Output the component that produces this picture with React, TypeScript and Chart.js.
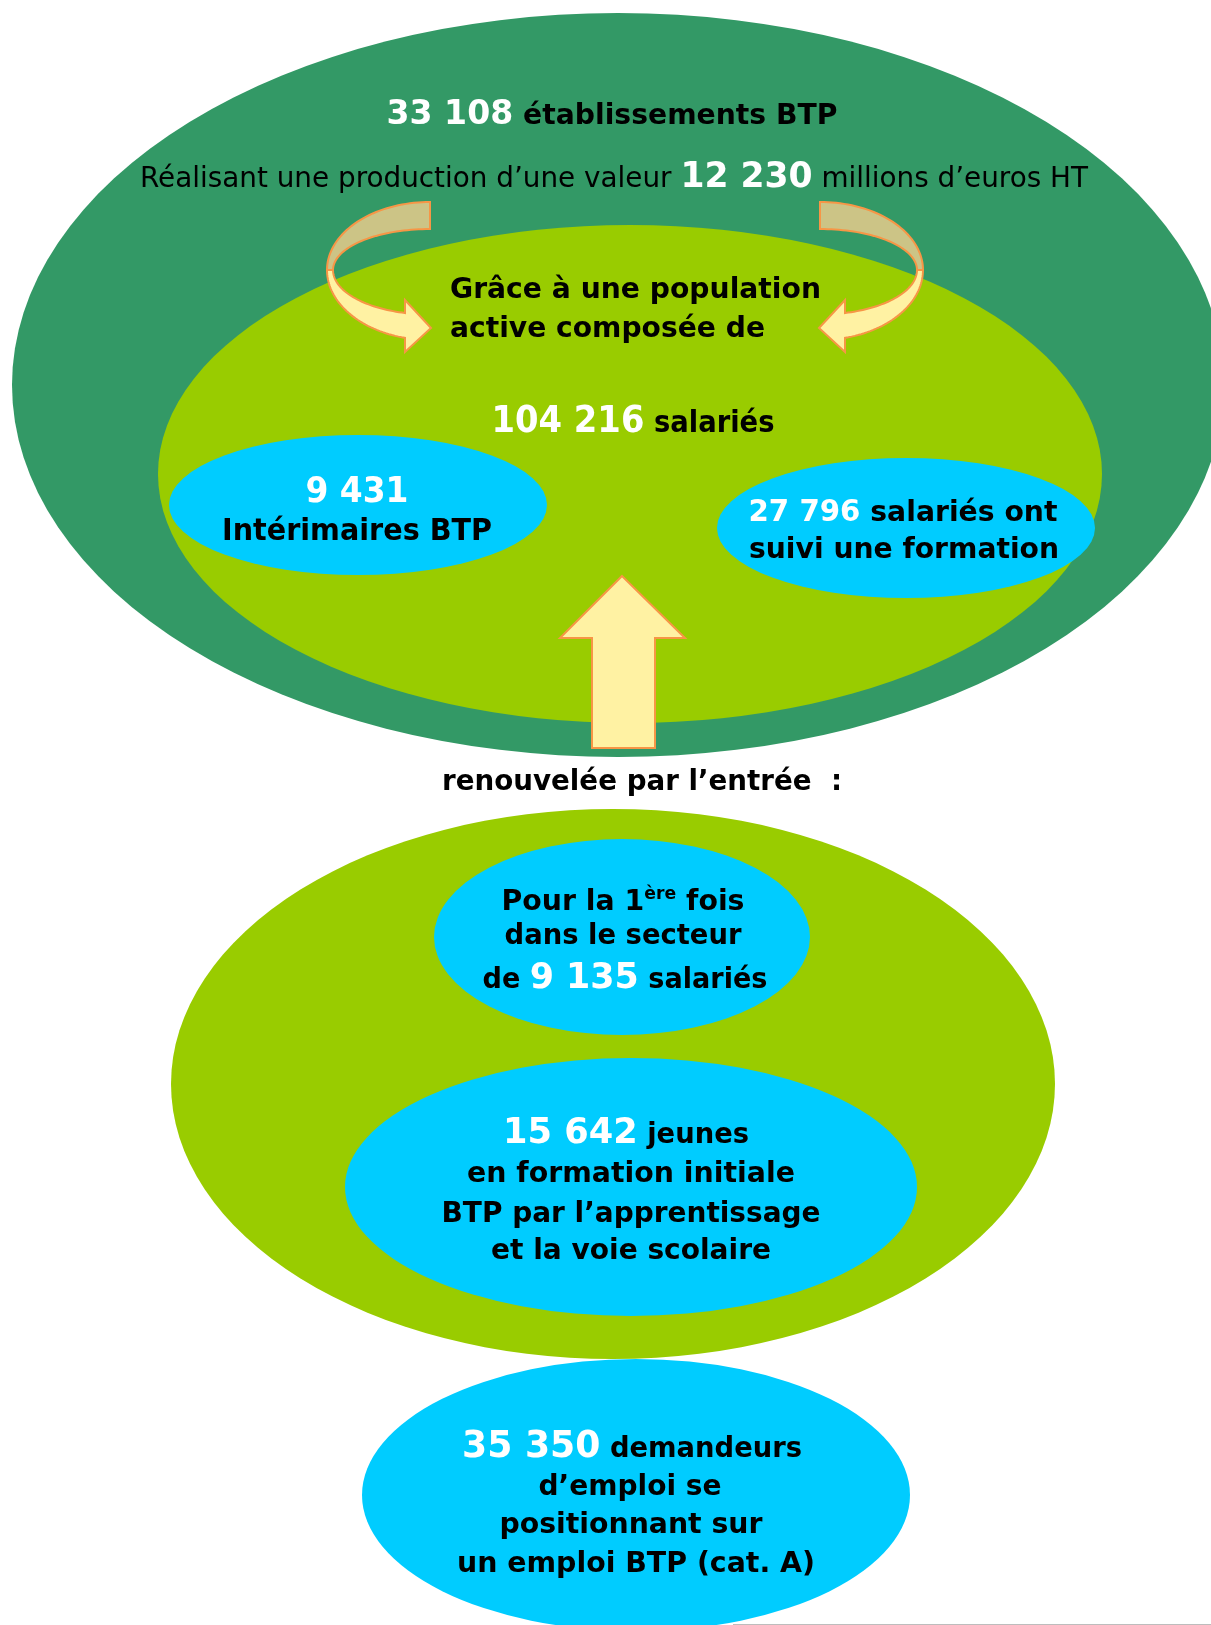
import { useEffect, useRef } from "react";
import { Chart, registerables } from "chart.js";

Chart.register(...registerables);

const W = 1211;
const H = 1625;

// ---------- DATA ----------
const figureIds = ["etablissements", "production", "salaries", "interimaires", "formes", "primoEntrants", "jeunes", "demandeurs"];
const figureValues = [33108, 12230, 104216, 9431, 27796, 9135, 15642, 35350];
const figureUnits = [
  " établissements BTP",
  " millions d’euros HT",
  " salariés",
  "Intérimaires BTP",
  " salariés ont",
  " salariés",
  " jeunes",
  " demandeurs",
];
const captionLines = [
  "Réalisant une production d’une valeur ",
  "Grâce à une population",
  "active composée de",
  "suivi une formation",
  "renouvelée par l’entrée  :",
  "Pour la 1",
  "ère",
  " fois",
  "dans le secteur",
  "de ",
  "en formation initiale",
  "BTP par l’apprentissage",
  "et la voie scolaire",
  "d’emploi se",
  "positionnant sur",
  "un emploi BTP (cat. A)",
];

const fmt = (n: number) => String(n).replace(/\B(?=(\d{3})+(?!\d))/g, " ");
const val = (id: string) => fmt(figureValues[figureIds.indexOf(id)]);
const unit = (id: string) => figureUnits[figureIds.indexOf(id)];

// ---------- STYLE / LAYOUT ----------
const DARK_GREEN = "#339966";
const LIGHT_GREEN = "#99CC00";
const CYAN = "#00CCFF";
const ARROW_FILL = "#FFF2A3";
const ARROW_BACK = "#CCC486";
const ARROW_STROKE = "#F79646";
const WHITE = "#FFFFFF";
const BLACK = "#000000";
const FONT = '"DejaVu Sans", Verdana, sans-serif';

type Ell = { cx: number; cy: number; rx: number; ry: number; color: string };
const ELLIPSES: Ell[] = [
  { cx: 618, cy: 385, rx: 606, ry: 372, color: DARK_GREEN },
  { cx: 630, cy: 474, rx: 472, ry: 249, color: LIGHT_GREEN },
  { cx: 358, cy: 505, rx: 189, ry: 70, color: CYAN },
  { cx: 906, cy: 528, rx: 189, ry: 70, color: CYAN },
  { cx: 613, cy: 1084, rx: 442, ry: 275, color: LIGHT_GREEN },
  { cx: 622, cy: 937, rx: 188, ry: 98, color: CYAN },
  { cx: 631, cy: 1187, rx: 286, ry: 129, color: CYAN },
  { cx: 636, cy: 1495, rx: 274, ry: 136, color: CYAN },
];

type Seg = { t: string; s: number; b: boolean; c: string; raise?: number };
type Line = { segs: Seg[]; x: number; y: number; w: number; align?: "left" | "center" };

const B = (t: string, s = 29): Seg => ({ t, s, b: true, c: BLACK });
const N = (t: string, s = 36): Seg => ({ t, s, b: true, c: WHITE });
const R = (t: string, s = 29): Seg => ({ t, s, b: false, c: BLACK });

const LINES: Line[] = [
  { segs: [N(val("etablissements"), 34), B(unit("etablissements"), 29)], x: 612, y: 124, w: 451 },
  { segs: [R(captionLines[0]), N(val("production"), 36), R(unit("production"))], x: 614, y: 187, w: 948 },
  { segs: [B(captionLines[1], 29)], x: 450, y: 298, w: 371, align: "left" },
  { segs: [B(captionLines[2], 29)], x: 450, y: 337, w: 315, align: "left" },
  { segs: [N(val("salaries"), 37), B(unit("salaries"), 30)], x: 633, y: 432, w: 283 },
  { segs: [N(val("interimaires"), 36)], x: 357, y: 502, w: 103 },
  { segs: [B(unit("interimaires"), 31)], x: 357, y: 540, w: 270 },
  { segs: [N(val("formes"), 30), B(unit("formes"), 29)], x: 903, y: 521, w: 309 },
  { segs: [B(captionLines[3], 29)], x: 904, y: 558, w: 310 },
  { segs: [B(captionLines[4], 29)], x: 642, y: 790, w: 400 },
  { segs: [B(captionLines[5], 28), { t: captionLines[6], s: 17, b: true, c: BLACK, raise: 11 }, B(captionLines[7], 28)], x: 623, y: 910, w: 243 },
  { segs: [B(captionLines[8], 28)], x: 623, y: 944, w: 237 },
  { segs: [B(captionLines[9], 28), N(val("primoEntrants"), 36), B(unit("primoEntrants"), 28)], x: 625, y: 988, w: 285 },
  { segs: [N(val("jeunes"), 36), B(unit("jeunes"), 28)], x: 626, y: 1143, w: 246 },
  { segs: [B(captionLines[10], 28)], x: 631, y: 1182, w: 328 },
  { segs: [B(captionLines[11], 28)], x: 631, y: 1222, w: 379 },
  { segs: [B(captionLines[12], 28)], x: 631, y: 1259, w: 280 },
  { segs: [N(val("demandeurs"), 37), B(unit("demandeurs"), 28)], x: 632, y: 1457, w: 340 },
  { segs: [B(captionLines[13], 28)], x: 630, y: 1495, w: 183 },
  { segs: [B(captionLines[14], 28)], x: 631, y: 1533, w: 263 },
  { segs: [B(captionLines[15], 28)], x: 636, y: 1572, w: 358 },
];

// up arrow outline (value space)
const UP_ARROW: [number, number][] = [
  [622, 576], [685, 638], [655, 638], [655, 748], [592, 748], [592, 638], [560, 638],
];

// curved arrow geometry
const CA = { cx: 430, cy: 270, axis: 625, headX: 405, headTop: 300, headBot: 352, tipX: 431, tipY: 328 };

// faint page-edge rule at the bottom right
const EDGE_RULE = { x0: 733, x1: 1211, y: 1624 };

function drawAll(chart: any) {
  const ctx: CanvasRenderingContext2D = chart.ctx;
  const xs = chart.scales.x;
  const ys = chart.scales.y;
  const X = (v: number) => xs.getPixelForValue(v);
  const Y = (v: number) => ys.getPixelForValue(v);

  ctx.save();
  // edge rule
  ctx.beginPath();
  ctx.moveTo(X(EDGE_RULE.x0), Y(EDGE_RULE.y) + 0.5);
  ctx.lineTo(X(EDGE_RULE.x1), Y(EDGE_RULE.y) + 0.5);
  ctx.strokeStyle = "#BDBDBD";
  ctx.lineWidth = 1;
  ctx.stroke();

  // ellipses
  for (const e of ELLIPSES) {
    ctx.beginPath();
    ctx.ellipse(X(e.cx), Y(e.cy), Math.abs(X(e.cx + e.rx) - X(e.cx)), Math.abs(Y(e.cy + e.ry) - Y(e.cy)), 0, 0, Math.PI * 2);
    ctx.fillStyle = e.color;
    ctx.fill();
  }

  const strokeFill = (pts: [number, number][], fill: string) => {
    ctx.beginPath();
    pts.forEach(([x, y], i) => (i === 0 ? ctx.moveTo(X(x), Y(y)) : ctx.lineTo(X(x), Y(y))));
    ctx.closePath();
    ctx.fillStyle = fill;
    ctx.fill();
    ctx.lineWidth = 2;
    ctx.lineJoin = "miter";
    ctx.strokeStyle = ARROW_STROKE;
    ctx.stroke();
  };

  const arc = (rx: number, ry: number, t0: number, t1: number, mirror: boolean): [number, number][] => {
    const out: [number, number][] = [];
    const n = 40;
    for (let i = 0; i <= n; i++) {
      const t = t0 + ((t1 - t0) * i) / n;
      let x = CA.cx + rx * Math.cos(t);
      const y = CA.cy + ry * Math.sin(t);
      if (mirror) x = 2 * CA.axis - x;
      out.push([x, y]);
    }
    return out;
  };

  for (const mirror of [false, true]) {
    const mx = (x: number) => (mirror ? 2 * CA.axis - x : x);
    const back = [...arc(103, 68, -Math.PI / 2, -Math.PI, mirror), ...arc(97, 41, -Math.PI, -Math.PI / 2, mirror)];
    strokeFill(back, ARROW_BACK);
    const t3 = Math.acos((CA.headX - CA.cx) / 97);
    const t4 = Math.acos((CA.headX - CA.cx) / 103);
    const front: [number, number][] = [
      ...arc(97, 44.5, Math.PI, t3, mirror),
      [mx(CA.headX), CA.headTop],
      [mx(CA.tipX), CA.tipY],
      [mx(CA.headX), CA.headBot],
      ...arc(103, 70, t4, Math.PI, mirror),
    ];
    strokeFill(front, ARROW_FILL);
  }

  strokeFill(UP_ARROW, ARROW_FILL);

  // text
  ctx.textAlign = "left";
  ctx.textBaseline = "alphabetic";
  for (const line of LINES) {
    const fonts = line.segs.map((s) => `${s.b ? "bold " : ""}${s.s}px ${FONT}`);
    const widths = line.segs.map((s, i) => {
      ctx.font = fonts[i];
      return ctx.measureText(s.t).width;
    });
    const natural = widths.reduce((a, b) => a + b, 0);
    const pxW = X(line.w) - X(0);
    const sx = pxW / natural;
    const left = line.align === "left" ? X(line.x) : X(line.x) - pxW / 2;
    ctx.save();
    ctx.translate(left, Y(line.y));
    ctx.scale(sx, 1);
    let off = 0;
    line.segs.forEach((s, i) => {
      ctx.font = fonts[i];
      ctx.fillStyle = s.c;
      ctx.fillText(s.t, off, -(s.raise || 0));
      off += widths[i];
    });
    ctx.restore();
  }
  ctx.restore();
}

export default function App() {
  const ref = useRef<HTMLCanvasElement>(null);
  useEffect(() => {
    document.body.style.margin = "0";
    document.body.style.overflow = "hidden";
    const canvas = ref.current!;
    const plugin = {
      id: "infographic",
      afterDraw(chart: any) {
        drawAll(chart);
      },
    };
    const chart = new Chart(canvas, {
      type: "scatter",
      data: { datasets: [{ data: [], pointRadius: 0 }] },
      options: {
        responsive: false,
        animation: false,
        devicePixelRatio: 1,
        layout: { padding: 0 },
        events: [],
        plugins: { legend: { display: false }, tooltip: { enabled: false }, title: { display: false } },
        scales: {
          x: { type: "linear", min: 0, max: W, display: false },
          y: { type: "linear", min: 0, max: H, reverse: true, display: false },
        },
      },
      plugins: [plugin],
    } as any);
    return () => chart.destroy();
  }, []);
  return (
    <div style={{ width: W, height: H, background: "#ffffff" }}>
      <canvas ref={ref} width={W} height={H} style={{ display: "block" }} />
    </div>
  );
}
